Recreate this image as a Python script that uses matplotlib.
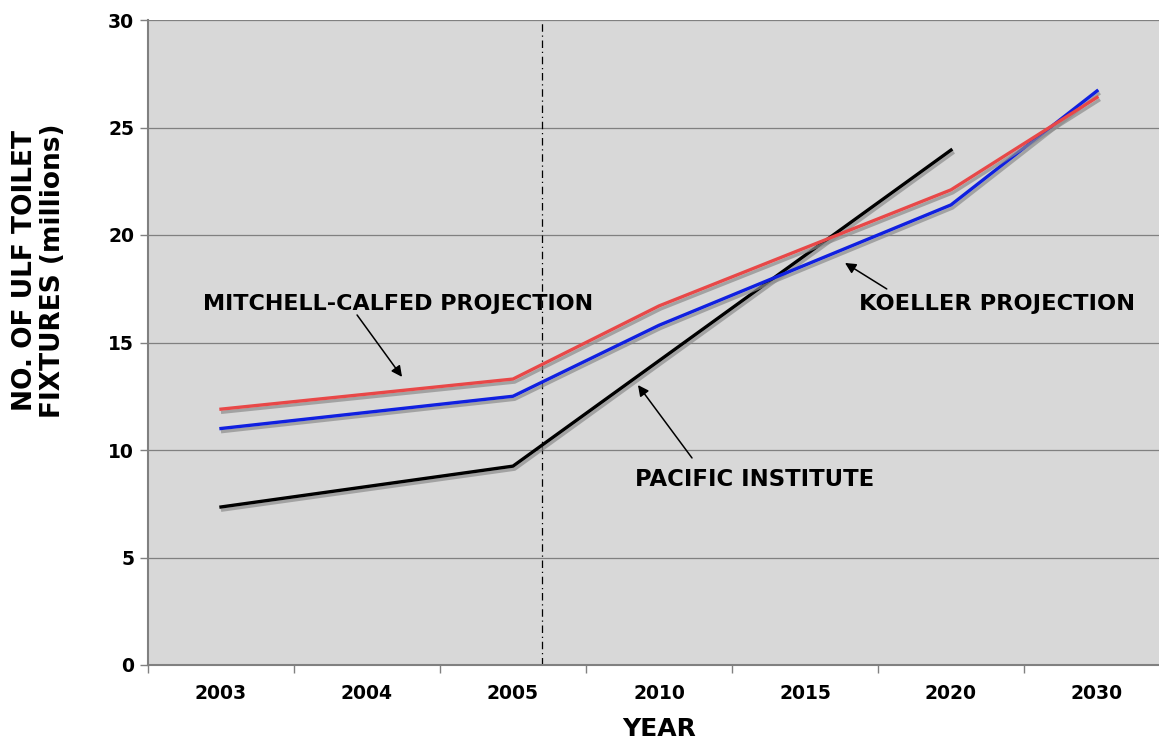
import numpy as np
import matplotlib
matplotlib.use("Agg")
import matplotlib.pyplot as plt
import matplotlib.patheffects as pe

# categories on the x axis (not evenly spaced years, Excel style)
years = ["2003", "2004", "2005", "2010", "2015", "2020", "2030"]

# series: category index -> value (millions)
mitchell_x = [0, 2, 3, 5, 6]
mitchell_y = [11.9, 13.3, 16.7, 22.1, 26.4]
koeller_x = [0, 2, 3, 5, 6]
koeller_y = [11.0, 12.5, 15.8, 21.4, 26.7]
pacific_x = [0, 2, 5]
pacific_y = [7.35, 9.25, 23.95]

yticks = [0, 5, 10, 15, 20, 25, 30]
divider_x = 2.2   # dash-dot line between 2005 and 2010

plt.rcParams['font.family'] = ['DejaVu Sans']
plt.rcParams['font.weight'] = 'bold'

fig = plt.figure(figsize=(11.59, 7.44), dpi=100)
ax = fig.add_axes([148/1159, 79/744, 1022/1159, 645/744])
ax.set_facecolor('#d8d8d8')

ax.set_xlim(-0.5, 6.5)
ax.set_ylim(0, 30)

# gridlines
ax.set_yticks(yticks)
ax.yaxis.grid(True, color='#808080', linewidth=0.9)
ax.set_axisbelow(True)

# x: tick marks at boundaries, labels at centers
ax.set_xticks(np.arange(-0.5, 6.6, 1.0))
ax.set_xticklabels([])
ax.set_xticks(np.arange(len(years)), minor=True)
ax.set_xticklabels(years, minor=True, fontsize=13.5, fontweight='bold')
ax.tick_params(axis='x', which='major', length=6, color='#808080', width=1)
ax.tick_params(axis='x', which='minor', length=0, pad=14)
ax.tick_params(axis='y', length=6, color='#808080', width=1, pad=4, labelsize=13.5)
for lab in ax.get_yticklabels():
    lab.set_fontweight('bold')

for s in ['left', 'bottom']:
    ax.spines[s].set_color('#808080')
    ax.spines[s].set_linewidth(1.5)
ax.spines['top'].set_visible(False)
ax.spines['right'].set_visible(False)

shadow = [pe.SimpleLineShadow(offset=(1.2, -2.2), shadow_color='#8c8c8c', alpha=0.7),
          pe.Normal()]
ax.plot(pacific_x, pacific_y, color='black', lw=2.4, path_effects=shadow, zorder=3)
ax.plot(koeller_x, koeller_y, color='#1020e0', lw=2.4, path_effects=shadow, zorder=3)
ax.plot(mitchell_x, mitchell_y, color='#e84848', lw=2.4, path_effects=shadow, zorder=4)

ax.axvline(divider_x, color='black', lw=0.9, linestyle=(0, (6, 3, 1, 3)), zorder=2)

# annotations
arrow = dict(arrowstyle='-|>', color='black', lw=1.1, mutation_scale=16, shrinkA=0, shrinkB=0)
ax.annotate('', xy=(1.24, 13.40), xytext=(0.932, 16.28), arrowprops=arrow)
ax.annotate('', xy=(4.274, 18.70), xytext=(4.56, 17.49), arrowprops=arrow)
ax.annotate('', xy=(2.856, 13.02), xytext=(3.226, 9.63), arrowprops=arrow)

ax.text(-0.123, 16.79, 'MITCHELL-CALFED PROJECTION', fontsize=16, fontweight='bold',
        ha='left', va='center')
ax.text(4.37, 16.79, 'KOELLER PROJECTION', fontsize=16.2, fontweight='bold',
        ha='left', va='center')
ax.text(2.836, 8.65, 'PACIFIC INSTITUTE', fontsize=16.4, fontweight='bold',
        ha='left', va='center')

ax.set_xlabel('YEAR', fontsize=18, fontweight='bold')
ax.xaxis.set_label_coords(0.5, -0.099)
ax.xaxis.label.set_va('center')
ax.set_ylabel('NO. OF ULF TOILET\nFIXTURES (millions)', fontsize=19, fontweight='bold',
              linespacing=1.1)
ax.yaxis.set_label_coords(-0.107, 0.611)
ax.yaxis.label.set_va('center')

fig.savefig('out.png', dpi=100)
